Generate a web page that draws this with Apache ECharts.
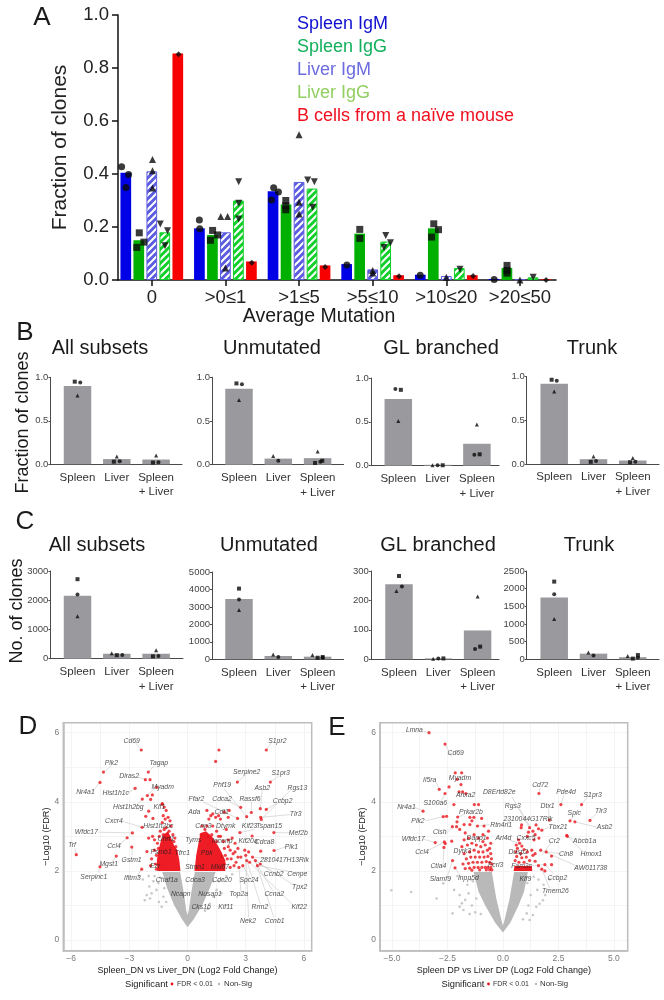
<!DOCTYPE html>
<html><head><meta charset="utf-8">
<style>html,body{margin:0;padding:0;background:#fff}#c{width:664px;height:1000px}</style>
<script src="https://cdn.jsdelivr.net/npm/echarts@6/dist/echarts.min.js"></script>
</head><body><div id="c"></div>
<script>
// ---------- Panel A data ----------
const mutationBins = ['0','>0≤1','>1≤5','>5≤10','>10≤20','>20≤50'];
const spleenIgM = [0.405,0.195,0.335,0.06,0.02,0.004];
const spleenIgG = [0.15,0.17,0.285,0.175,0.195,0.045];
const liverIgM  = [0.41,0.18,0.37,0.04,0.015,0.003];
const liverIgG  = [0.18,0.30,0.345,0.145,0.045,0.01];
const naiveB    = [0.855,0.07,0.055,0.018,0.018,0.003];
const spleenIgMPts = [[-.41,.427],[-.315,.398],[-.35,.349],[.646,.226],[.651,.193],[1.655,.348],[1.72,.332],[1.626,.302],[2.65,.057],[3.646,.018],[4.65,.002]];
const spleenIgGPts = [[-.17,.178],[-.107,.143],[-.204,.123],[.826,.187],[.894,.17],[.796,.15],[1.82,.30],[1.82,.28],[1.82,.265],[2.825,.191],[2.825,.157],[3.83,.212],[3.894,.19],[3.8,.162],[4.825,.055],[4.825,.036],[4.825,.026]];
const liverIgMPts = [[.01,.455],[.01,.412],[.01,.347],[.937,.24],[1.03,.24],[1,.045],[2,.548],[2,.293],[2,.249],[3,.036],[3,.026],[4,.01],[5,0]];
const liverIgGPts = [[.116,.211],[.213,.186],[.179,.129],[1.18,.371],[1.18,.29],[1.18,.23],[2.117,.377],[2.208,.371],[2.185,.275],[3.178,.168],[3.242,.141],[3.155,.123],[4.185,.041],[5.18,.01]];
const naiveBPts = [[.364,.852],[1.358,.065],[2.354,.049],[3.358,.014],[4.364,.015],[5.355,0]];

// ---------- Panels B, C data ----------
const tissueCats = ['Spleen','Liver','Spleen\n+ Liver'];
const subsetTitles = ['All subsets','Unmutated','GL branched','Trunk'];
const fracBars = [[.90,.06,.055],[.87,.07,.075],[.76,.01,.25],[.92,.055,.04]];
const fracSquares = [[[-.07,.95],[.925,.03],[1.92,.02]],[[-.065,.93],[2.12,.045],[1.935,.02]],[[.065,.865],[1.13,.005],[2.07,.13]],[[-.065,.965],[.93,.025],[1.93,.02]]];
const fracCircles = [[[.07,.94],[1.075,.035],[2.06,.025]],[[.075,.92],[1,.045],[2.07,.035]],[[-.075,.875],[1,.005],[1.935,.125]],[[.065,.955],[1.065,.035],[2.065,.025]]];
const fracTriangles = [[[0,.79],[1,.09],[2,.10]],[[0,.74],[.87,.10],[2,.15]],[[0,.51],[.87,.005],[2,.47]],[[0,.83],[1,.085],[2,.07]]];
const cloneBars = [[2150,170,170],[3450,190,150],[255,3,98],[1750,160,60]];
const cloneSquares = [[[0,2720],[1,120],[1.92,80]],[[0,4050],[2.13,130],[2,90]],[[0,283],[1.13,3],[2.065,43]],[[0,2200],[2.13,120],[2,20]]];
const cloneCircles = [[[0,2200],[1.14,130],[2.06,90]],[[0,3430],[1,130],[2.13,90]],[[.075,247],[1,3],[1.935,35]],[[0,1840],[1,110],[2.13,50]]];
const cloneTriangles = [[[0,1450],[.87,190],[2,290]],[[0,2820],[.87,280],[1.87,240]],[[-.065,232],[.87,2],[2,213]],[[0,1140],[.87,190],[1.87,90]]];
const cloneMax = [3000,5000,300,2500];
const cloneStep = [1000,1000,100,500];

// ---------- Panel D data ----------
const dGrayShape = [[0,.37],[-.28,.6],[-.68,1.0],[-1.05,1.5],[-1.3,1.97],[-.38,1.97],[-.2,1.4],[-.06,.85],[0,.72],[.06,.85],[.2,1.4],[.38,1.97],[1.45,1.97],[1.15,1.5],[.75,1.0],[.32,.6]];
const dGrayPts = [[-2.2,1.15],[-2.1,1.3],[-1.97,1.55],[-1.76,1.7],[-2.3,1.75],[-1.6,1.45],[-1.85,1.35],[-1.47,1.1],[-1.33,.96],[-1.5,1.65],[-1.24,1.25],[-1.93,1.2],[-1.4,1.8],[-1.7,1.85],[-2.0,1.85],[-1.1,1.1],[1.85,1.75],[2.0,1.85],[1.15,1.05],[1.5,1.45],[1.75,1.35],[1.33,1.25],[1.6,1.7],[1.3,1.7],[.9,.85],[1.05,.9],[2.3,1.9],[-2.5,1.85],[-1.2,1.5]];
const dRedLeftShape = [[-.36,2],[-1.55,2],[-1.58,2.3],[-1.5,2.6],[-1.38,2.85],[-1.25,3.05],[-1.0,3.15],[-.85,2.95],[-.7,2.75],[-.52,2.6],[-.42,2.3]];
const dRedRightShape = [[.36,2],[1.95,2],[1.95,2.3],[1.75,2.55],[1.55,2.75],[1.25,3.0],[.95,3.15],[.68,3.1],[.58,2.85],[.45,2.45]];
const dRedPts = [[-2.38,5.5],[1.62,5.5],[4.06,5.5],[1.45,5.17],[-4.33,4.86],[-4.51,4.56],[-2.02,4.86],[-2.17,4.64],[-1.93,4.64],[-2.7,4.39],[2.57,4.57],[4.27,4.57],[-1.59,4.42],[-2.07,4.18],[-1.81,4.2],[-2.33,4.08],[-1.9,4.07],[-1.3,3.93],[2.74,3.84],[3.75,3.8],[4.06,3.78],[3.29,3.69],[3.05,3.57],[2.58,3.52],[3.77,3.55],[3.8,3.49],[-2.34,3.26],[-2.84,3.1],[-3.11,2.96],[-2.87,2.69],[-3.67,2.43],[-4.51,2.12],[-5.73,2.47],[-2.36,2.05],[-2.09,2.56],[-2,3.73],[-2.15,3.58],[-1.78,3.52],[4.45,3.11],[4.46,2.59],[3.77,2.57],[3.33,3.01],[2.7,3.11],
 [1.7,2.1],[1.9,2.2],[2.05,2.35],[2.2,2.1],[2.35,2.5],[2.5,2.25],[2.6,2.65],[2.75,2.4],[2.85,2.15],[3,2.45],[3.05,2.3],[3.2,2.25],[3.35,2.4],[3.5,2.3],[3.6,2.15],[3.75,2.2],[3.15,2.55],[2.45,2.8],[2.1,2.9],[1.9,2.65],[1.75,2.4],[2.3,2.95],[1.7,3.0],[1.5,2.85],[1.3,3.3],[1.5,3.15],[1.1,3.5],[1.2,3.6],[1.45,3.55],[1.7,3.5],[2.1,3.55],[1.9,3.7],[2.15,3.75],[1,3.75],[1.3,3.65],[1.6,3.6],[1.25,3.05],[.9,3.2],[.75,3.3],[1,3.3],[1.05,3.0],[.7,3.05],[2,3.2],[1.95,2.45],[2.2,2.6],[2.4,2.15],[2.65,2.1],[2.95,2.6],[2.1,2.7],[1.85,2.85],[1.6,3.0],[2.25,2.35],[2.6,2.4],[2.45,2.55],
 [-1.3,3.95],[-1.2,3.85],[-1.1,3.75],[-1.25,3.6],[-1.15,3.5],[-1,3.55],[-.9,3.45],[-1.3,3.4],[-.85,3.3],[-1.1,3.25],[-.95,3.15],[-.75,3.05],[-1.45,3.0],[-1.25,3.05],[-1.05,2.95],[-.9,2.9],[-.7,2.85],[-2,2.95],[-1.8,3],[-1.55,2.8],[-1.7,2.6],[-1.85,2.35],[-1.65,2.2],[-1.6,2.05],[-1.9,2.15],[-1.7,2.9],[-1.5,2.65],[-1.6,2.45],[-1.2,3.2],[-1.4,3.15],[-.65,2.95],[-.6,2.7]];
// [gene, label x, label y]
const dGenes = [['Cd69',-2.88,5.76],['Tagap',-1.48,5.12],['Plk2',-3.92,5.13],['Diras2',-3.01,4.73],['Myadm',-1.28,4.43],['Hist1h1c',-3.7,4.24],['Nr4a1',-5.26,4.28],['Hist1h2bg',-3.05,3.85],['Klf1',-1.45,3.85],['Cxcr4',-3.79,3.45],['Wfdc17',-5.21,3.12],['Hist1h2bc',-1.5,3.31],['Ccl4',-3.79,2.72],['Gstm1',-2.88,2.31],['Trf',-5.95,2.74],['Mgst1',-4.06,2.21],['Serpinc1',-4.83,1.81],['Ifitm3',-2.84,1.78],['Psmb1',-1.36,2.53],['Tfrc1',-.27,2.52],['Ezr',-1.67,2.14],['Uhrf1',-1.1,2.91],['Chaf1a',-1.07,1.73],['Cdca3',.39,1.73],['Ncapn',-.35,1.33],['Nusap1',1.16,1.33],['Cks1b',.7,.94],['Kif11',1.97,.94],['Top2a',2.64,1.33],['Cdc20',1.78,1.73],['Spc24',3.17,1.73],['Ccnb2',4.44,1.92],['Cenpe',5.66,1.92],['Tpx2',5.78,1.52],['Ccna2',4.47,1.34],['Kif22',5.76,.95],['Rrm2',3.73,.95],['Nek2',3.12,.54],['Ccnb1',4.49,.54],['S1pr2',4.63,5.76],['S1pr3',4.8,4.83],['Serpine2',3.05,4.86],['Phf19',1.79,4.47],['Asb2',3.85,4.41],['Rgs13',5.66,4.41],['Ccbp2',4.9,4.01],['Cdca2',1.78,4.08],['Rassf6',3.22,4.07],['Ffar2',.46,4.08],['Ada',.35,3.69],['Cdt1',1.76,3.69],['Tlr3',5.57,3.63],['Kif23',3.2,3.29],['Tspan15',4.21,3.29],['Mef2b',5.71,3.1],['Cnn3',.82,3.31],['Dtymk',1.97,3.29],['Kif20a',3.12,2.86],['Cdca8',3.97,2.84],['Plk1',5.35,2.7],['2810417H13Rik',5,2.31],['Tyms',.3,2.89],['Incenp',1.79,2.87],['Pbk',.99,2.51],['Stmn1',.39,2.12],['Mki67',1.67,2.12]];
// [label x, label y, point x, point y]
const dLinks = [[-2.7,5.72,-2.38,5.5],[-1.7,5.05,-2.02,4.86],[-3.9,5.05,-4.33,4.86],[-4.9,4.3,-4.51,4.56],[-2.6,4.73,-2.17,4.64],[-1.7,4.4,-2.07,4.18],[-3.1,4.24,-2.7,4.39],[-2.7,3.85,-2.33,4.08],[-3.4,3.45,-2.34,3.26],[-4.6,3.12,-2.84,3.1],[-3.5,2.75,-3.11,2.96],[-2.85,2.45,-2.87,2.69],[-3.9,2.25,-3.67,2.43],[-4.6,1.95,-4.51,2.12],[-5.8,2.65,-5.73,2.47],[-2.6,1.85,-2.36,2.05],[4.3,5.7,4.06,5.5],[4.7,4.75,4.27,4.57],[3,4.78,2.57,4.57],[1.9,4.37,3.05,3.57],[5.3,4.33,3.8,3.49],[3.85,4.33,3.75,3.8],[4.6,3.95,4.06,3.78],[2.1,4.02,2.74,3.84],[.8,4,2.58,3.52],[3.3,4,3.29,3.69],[5.3,3.63,3.77,3.55],[5.3,3.1,4.45,3.11],[5.1,2.7,4.46,2.59],[4.3,2.35,3.3,2.4],[4.35,1.98,3.5,2.3],[5.4,1.97,3.6,2.15],[5.5,1.58,3.75,2.2],[4.4,1.42,3.35,2.4],[5.4,1.03,3.2,2.25],[3.75,1.05,3.05,2.3],[3.15,.65,3,2.45],[4.45,.65,3.5,2.3],[3.2,1.8,2.85,2.15],[2.75,1.42,2.65,2.1],[3.45,3.2,2.7,3.11]];

// ---------- Panel E data ----------
const eGrayShape = [[0,.22],[-.35,.5],[-.8,1.0],[-1.1,1.4],[-1.32,1.97],[-.5,1.97],[-.3,1.2],[-.06,.55],[0,.42],[.06,.55],[.3,1.2],[.5,1.97],[1.12,1.97],[.95,1.4],[.7,1.0],[.33,.5]];
const eGrayPts = [[-5.03,1.44],[-4.14,1.39],[-2.99,1.2],[-2.27,.77],[-2.69,1.64],[-1.78,.87],[-1.7,1.16],[-1.85,1.06],[-1.55,1.35],[-1.95,.96],[-1.4,1.0],[-1.25,.8],[-1.6,1.6],[-1.45,1.75],[-2.2,1.45],[-1.95,1.3],[-1.35,1.7],[-1.5,.75],[-1.2,1.2],[1.2,.58],[1.5,.96],[1.8,1.15],[1.07,.77],[1.83,1.6],[1.38,1.83],[1.25,1.3],[1.55,1.45],[1.1,1.65],[1.9,1.3],[1.35,.72],[1.15,1.0],[1.6,1.75],[2.1,1.75],[-1,.75],[.9,.6],[1.65,1.05],[-2.05,1.85]];
const eRedBase = [[.48,2],[1.32,2],[1.3,2.14],[.52,2.14]];
const eRedPts = [[-3.33,6],[-2.61,5.67],[-2.15,4.84],[-1.86,4.84],[-2.06,4.65],[-1.89,4.5],[-2.43,4.43],[-2.87,4.36],[-2.61,4.24],[-1.98,4.29],[-1.82,4.29],[-1.67,4.24],[-2.21,3.92],[-1.29,3.92],[-1.1,3.92],[-3.6,3.73],[-2.69,3.57],[-2.54,3.58],[-2.04,3.56],[-2.07,3.42],[-1.49,3.55],[-1.31,3.55],[-.96,3.52],[-2.28,3.28],[-2.09,3.28],[-1.75,3.34],[-1.49,3.34],[-3.05,2.82],[-2.64,2.84],[-2.6,2.79],[-2.31,2.86],[-2.66,2.68],[-2.27,2.3],[-2.16,2.09],[-1.95,3.2],[-1.7,3.1],[-1.4,3.45],[-1.15,3.3],[-.9,3.05],[-.85,3.3],[-.65,3.15],
 [-1.75,2.9],[-1.55,2.95],[-1.3,3.05],[-1.1,2.95],[-.9,2.85],[-.7,2.95],[-.55,2.8],[-1.85,2.7],[-1.6,2.75],[-1.4,2.8],[-1.2,2.75],[-1,2.7],[-.8,2.75],[-.6,2.65],[-1.75,2.5],[-1.5,2.55],[-1.3,2.6],[-1.1,2.55],[-.9,2.55],[-.7,2.6],[-.55,2.5],[-1.65,2.35],[-1.45,2.4],[-1.25,2.4],[-1.05,2.4],[-.85,2.4],[-.68,2.42],[-.52,2.35],[-1.8,2.2],[-1.55,2.22],[-1.35,2.25],[-1.15,2.25],[-.95,2.25],[-.75,2.27],[-.6,2.25],[-.5,2.2],[-1.7,2.07],[-1.5,2.08],[-1.3,2.1],[-1.12,2.1],[-.95,2.1],[-.8,2.1],[-.68,2.1],[-.55,2.1],[-1.4,2.02],[-1.05,2.03],[-.75,2.03],[-.6,2.03],[-.5,2.03],
 [1.62,4.24],[2.61,3.92],[3.54,3.92],[2.09,3.47],[3.02,3.45],[3.24,3.42],[3.92,3.46],[2.87,3.03],[2.9,3],[2.19,2.43],[1.89,2.18],[2.19,2.18],[1.89,2],[.84,3.33],[.82,3.25],[1.49,3.33],[1.2,3.25],[1.6,3.22],[1.75,3.18],[1.35,3.15],[1.15,3.12],[1.45,3.05],[1.62,2.95],[1.4,2.9],[1.1,3.0],[.7,2.9],[.75,2.8],[.6,2.75],[.85,2.72],[.65,2.65],[.95,2.62],[.58,2.55],[.8,2.5],[1.1,2.55],[1.3,2.6],[1.7,2.6],[1.95,2.55],[1.45,2.5],[.62,2.42],[.85,2.38],[1.05,2.4],[.55,2.3],[.72,2.25],[.95,2.25],[1.2,2.3],[1.35,2.45],[1.6,2.15],[1.45,2.28],[1.75,2.05]];
const eGenes = [['Lmna',-3.99,6.08],['Cd69',-2.13,5.4],['Il5ra',-3.3,4.63],['Myadm',-1.94,4.7],['Anxa2',-1.68,4.19],['S100a6',-3.05,3.96],['Nr4a1',-4.35,3.84],['Prkar2b',-1.44,3.71],['Plk2',-3.83,3.45],['Rtn4rl1',-.08,3.34],['Cish',-2.85,3.12],['Wfdc17',-4.04,2.92],['Ccl4',-3.65,2.54],['Dyrk3',-1.83,2.56],['Ctla4',-2.91,2.14],['Slamf9',-2.82,1.75],['Inpp5d',-1.56,1.8],['Dapp1',-1.19,2.94],['Fcrl3',-.33,2.16],['D8Ertd82e',-.17,4.27],['Cd72',1.68,4.49],['Pde4d',2.84,4.29],['S1pr3',4.04,4.18],['Tlr3',4.41,3.73],['Spic',3.21,3.68],['Rgs3',.44,3.88],['Dtx1',2.01,3.89],['2310044G17Rik',1.13,3.49],['Tbx21',2.48,3.27],['Asb2',4.58,3.27],['Arl4d',.02,2.94],['Cxxc5',1.04,2.94],['Cr2',2.31,2.87],['Abcb1a',3.68,2.87],['Dusp2',.69,2.54],['Cln8',2.84,2.49],['Hmox1',3.98,2.49],['Fam3c',.84,2.15],['AW011738',3.96,2.09],['Ccbp2',2.45,1.8],['Klf9',1.01,1.75],['Tmem26',2.36,1.41]];
const eLinks = [[-3.6,6.05,-3.33,6],[-2.3,5.3,-2.61,5.67],[-3,4.55,-2.87,4.36],[-2,4.63,-2.06,4.65],[-1.85,4.2,-1.98,4.29],[-2.8,4,-2.61,4.24],[-4,3.85,-3.6,3.73],[-1.7,3.65,-2.04,3.56],[-3.5,3.45,-2.69,3.57],[-.6,3.34,-1.15,3.3],[-2.6,3.05,-2.28,3.28],[-3.6,2.92,-3.05,2.82],[-3.35,2.6,-2.64,2.84],[-2.7,2.2,-2.66,2.68],[-2.5,1.85,-2.27,2.3],[-1.9,1.85,-2.16,2.09],[.4,4.15,1.15,3.3],[1.68,4.4,1.62,4.24],[2.75,4.2,2.61,3.92],[3.8,4.15,3.54,3.92],[4.2,3.65,3.92,3.46],[3.2,3.6,3.02,3.45],[.75,3.8,1.2,3.3],[2.05,3.8,2.09,3.47],[2.2,3.3,1.75,3.18],[4.2,3.27,3.24,3.42],[.3,2.9,.7,2.8],[2.15,2.8,1.75,2.45],[3.3,2.9,2.87,3],[2.6,2.5,1.95,2.55],[3.7,2.5,2.9,3],[3.4,2.12,1.7,2.6],[2.3,1.9,1.89,2.18],[2.1,1.5,1.75,2.05],[1.2,2.15,1.89,2.18]];

const F = 'Liberation Sans';
const AXC = '#4a4a4a';

function hatch(bg, stripe){
  const s = 7, c = document.createElement('canvas');
  c.width = s; c.height = s;
  const g = c.getContext('2d');
  g.fillStyle = bg; g.fillRect(0,0,s,s);
  g.strokeStyle = stripe; g.lineWidth = 2;
  g.beginPath();
  for(let k=-s;k<=2*s;k+=s){ g.moveTo(k-1,s+1); g.lineTo(k+s+1,-1); }
  g.stroke();
  return {image:c, repeat:'repeat'};
}

const grids=[], xAxes=[], yAxes=[], series=[];
function addAxes(grid, x, y){
  grids.push(grid); const i = grids.length-1;
  xAxes.push(Object.assign({gridIndex:i, type:'value'}, x));
  yAxes.push(Object.assign({gridIndex:i, type:'value'}, y));
  return i;
}
function pts(i, name, data, symbol, size, rot){
  series.push({type:'scatter', name, xAxisIndex:i, yAxisIndex:i, data, symbol, symbolSize:size, symbolRotate:rot||0,
    itemStyle:{color:'#0a0a0a'}, z:5, silent:true});
}

// ---------- Panel A ----------
(function(){
  const i = addAxes({left:118, width:438, top:15, height:265},
    {min:-.459, max:5.49, axisLine:{onZero:false,lineStyle:{color:'#111',width:1.5}}, splitLine:{show:false},
     axisTick:{customValues:[0,1,2,3,4,5], length:6, lineStyle:{color:'#111',width:1.5}},
     axisLabel:{customValues:[0,1,2,3,4,5], color:'#222', fontFamily:F, fontSize:18.5, margin:8, formatter:v=>mutationBins[v]}},
    {min:0, max:1, interval:.2, name:'Fraction of clones', nameLocation:'middle', nameGap:47, nameTextStyle:{fontFamily:F,fontSize:21,color:'#222'},
     axisLine:{show:true,onZero:false,lineStyle:{color:'#111',width:1.5}}, axisTick:{show:true,length:6,lineStyle:{color:'#111',width:1.5}}, splitLine:{show:false},
     axisLabel:{color:'#222', fontFamily:F, fontSize:18.5, margin:9, formatter:v=>v.toFixed(1)}});
  const defs = [['Spleen IgM',spleenIgM,'#0000e6',0],['Spleen IgG',spleenIgG,'#00b000',0],
    ['Liver IgM',liverIgM,hatch('#5c5ce0','#ffffff'),'#5c5ce0'],['Liver IgG',liverIgG,hatch('#12cf2a','#ffffff'),'#12cf2a'],['B cells from a naïve mouse',naiveB,'#f80000',0]];
  defs.forEach(d=>series.push({type:'bar', name:d[0], xAxisIndex:i, yAxisIndex:i, barWidth:10.7, barGap:'21.5%',
    data:d[1].map((v,k)=>[k,v]), itemStyle:{color:d[2], borderColor:d[3]||'transparent', borderWidth:d[3]?1:0}, silent:true, z:2}));
  pts(i,'Spleen IgM pts',spleenIgMPts,'circle',7);
  pts(i,'Spleen IgG pts',spleenIgGPts,'rect',7);
  pts(i,'Liver IgM pts',liverIgMPts,'triangle',7);
  pts(i,'Liver IgG pts',liverIgGPts,'triangle',7,180);
  pts(i,'Naive pts',naiveBPts,'diamond',6);
})();

// ---------- Panels B, C ----------
const smallLayoutB = [{l:50.4,r:182,c:77.5,t:377.3,b:464.3},{l:212,r:343.6,c:239,t:377.3,b:464.7},{l:370.8,r:499,c:398.3,t:378,b:465.7},{l:526.7,r:659,c:554.2,t:376.7,b:464}];
const smallLayoutC = [{l:50.4,r:183,c:77.5,t:571,b:658.7},{l:212,r:343.6,c:239,t:572,b:659.3},{l:370.8,r:499,c:399,t:571,b:659.3},{l:526.7,r:659,c:554.2,t:571,b:659.3}];
function small(L, bars, sq, ci, tr, ymax, step, fmt, tag){
  const s = 39.3;
  const i = addAxes({left:L.l, width:L.r-L.l, top:L.t, height:L.b-L.t},
    {min:(L.l-L.c)/s, max:(L.r-L.c)/s, axisLine:{onZero:false,lineStyle:{color:AXC,width:1}}, splitLine:{show:false},
     axisTick:{show:false, customValues:[0,1,2]},
     axisLabel:{customValues:[0,1,2], color:'#333', fontFamily:F, fontSize:11.5, lineHeight:14.5, margin:6, formatter:v=>tissueCats[v]}},
    {min:0, max:ymax, interval:step, axisLine:{show:true,onZero:false,lineStyle:{color:AXC,width:1}}, axisTick:{show:true,length:2,lineStyle:{color:AXC}}, splitLine:{show:false},
     axisLabel:{color:'#444', fontFamily:F, fontSize:9.5, margin:2, formatter:fmt}});
  series.push({type:'bar', name:tag, xAxisIndex:i, yAxisIndex:i, barWidth:27.5, data:bars.map((v,k)=>[k,v]), itemStyle:{color:'#9a9a9e'}, silent:true, z:2});
  pts(i,tag+' a',sq,'rect',4);
  pts(i,tag+' b',ci,'circle',4);
  pts(i,tag+' c',tr,'triangle',4);
}
subsetTitles.forEach((t,k)=>small(smallLayoutB[k],fracBars[k],fracSquares[k],fracCircles[k],fracTriangles[k],1,.5,v=>v.toFixed(1),'Fraction '+t));
subsetTitles.forEach((t,k)=>small(smallLayoutC[k],cloneBars[k],cloneSquares[k],cloneCircles[k],cloneTriangles[k],cloneMax[k],cloneStep[k],v=>String(v),'Clones '+t));

// ---------- Volcano panels ----------
function polygon(i, name, shape, color, z){
  series.push({type:'custom', name, xAxisIndex:i, yAxisIndex:i, data:shape, encode:{x:0,y:1}, z, silent:true, clip:true,
    renderItem:(p,api)=> p.dataIndex===0 ? {type:'polygon', shape:{points:shape.map(v=>api.coord(v))}, style:{fill:color}} : {type:'group',children:[]}});
}
function volcano(G, xr, xTicks, xLabels, xName, xFmt, gShape, gPts, rShapes, rPts, genes, links){
  const i = addAxes(G,
    {min:xr[0], max:xr[1], name:xName, nameLocation:'middle', nameGap:15, nameTextStyle:{fontFamily:F,fontSize:9,color:'#222'},
     axisLine:{onZero:false,lineStyle:{color:'#bdbdbd',width:1.5}}, splitLine:{show:true,lineStyle:{color:'#f1f1f1',width:.8}},
     axisTick:{customValues:xTicks, show:false},
     axisLabel:{customValues:xLabels, color:'#7a7a7a', fontFamily:F, fontSize:8.5, margin:3, formatter:xFmt}},
    {min:-.31, max:6.29, name:'−Log10 (FDR)', nameLocation:'middle', nameGap:11, nameTextStyle:{fontFamily:F,fontSize:9.2,color:'#222'},
     axisLine:{show:true,onZero:false,lineStyle:{color:'#bdbdbd',width:1.5}}, splitLine:{show:true,lineStyle:{color:'#f1f1f1',width:.8}},
     axisTick:{customValues:[0,1,2,3,4,5,6], show:false},
     axisLabel:{customValues:[0,2,4,6], color:'#7a7a7a', fontFamily:F, fontSize:8.5, margin:4}});
  polygon(i,'NonSig mass',gShape,'#b9b9b9',2);
  series.push({type:'scatter', name:'NonSig', xAxisIndex:i, yAxisIndex:i, data:gPts, symbol:'circle', symbolSize:2.6, itemStyle:{color:'#bcbcbc'}, z:2, silent:true});
  series.push({type:'custom', name:'Links', xAxisIndex:i, yAxisIndex:i, data:links, encode:{x:[0,2],y:[1,3]}, z:3, silent:true,
    renderItem:(p,api)=>{const a=api.coord([api.value(0),api.value(1)]), b=api.coord([api.value(2),api.value(3)]);
      return {type:'line', shape:{x1:a[0],y1:a[1],x2:b[0],y2:b[1]}, style:{stroke:'#cfcfcf',lineWidth:.7}};}});
  rShapes.forEach((r,k)=>polygon(i,'Sig mass '+k,r,'#ee1c25',4));
  series.push({type:'scatter', name:'Sig', xAxisIndex:i, yAxisIndex:i, data:rPts, symbol:'circle', symbolSize:3.2, itemStyle:{color:'#e8141c'}, z:4, silent:true});
  series.push({type:'scatter', name:'Genes', xAxisIndex:i, yAxisIndex:i, symbolSize:0, z:6, silent:true,
    data:genes.map(g=>({name:g[0], value:[g[1],g[2]]})),
    label:{show:true, position:'inside', formatter:'{b}', fontFamily:F, fontStyle:'italic', fontSize:6.8, color:'#1f1f1f'}, labelLayout:{hideOverlap:false}});
}
volcano({left:63.3,width:248.4,top:722.7,height:228},[-6.4,6.4],[-6,-4.5,-3,-1.5,0,1.5,3,4.5,6],[-6,-3,0,3,6],'Spleen_DN vs Liver_DN (Log2 Fold Change)',v=>String(v).replace('-','−'),
  dGrayShape,dGrayPts,[dRedLeftShape,dRedRightShape],dRedPts,dGenes,dLinks);
volcano({left:380,width:247.7,top:722.7,height:228},[-5.54,5.62],[-5,-3.75,-2.5,-1.25,0,1.25,2.5,3.75,5],[-5,-2.5,0,2.5,5],'Spleen DP vs Liver DP (Log2 Fold Change)',v=>v.toFixed(1).replace('-','−'),
  eGrayShape,eGrayPts,[eRedBase],eRedPts,eGenes,eLinks);

// ---------- Free text ----------
function T(text,x,y,size,opt){
  return Object.assign({type:'text', x, y, silent:true, z:20, style:Object.assign({text, fontFamily:F, fontSize:size, fill:'#1a1a1a', textAlign:'center', textVerticalAlign:'middle'}, opt&&opt.style)}, opt&&opt.el);
}
const titleX = [100,272,441,592];
const graphic = [
  T('A',42,18,26),T('B',25,333,26),T('C',25,522,26),T('D',28,727,26),T('E',337,728,26),
  T('Average Mutation',319,317,19.5),
  T('Fraction of clones',23,422.5,18,{el:{rotation:Math.PI/2}}),
  T('No. of clones',17,611,18,{el:{rotation:Math.PI/2}}),
];
subsetTitles.forEach((t,k)=>{graphic.push(T(t,titleX[k],348,20)); graphic.push(T(t,titleX[k]-3,545,20));});
[[0,63.3,311.7,722.7,950.7],[1,380,627.7,722.7,950.7]].forEach(a=>{
  graphic.push({type:'rect', z:1, silent:true, shape:{x:a[1],y:a[3],width:a[2]-a[1],height:a[4]-a[3]}, style:{fill:'none',stroke:'#bdbdbd',lineWidth:1.5}});
});
[[125,172,177,219,224],[441.5,488.5,493,536,540]].forEach(a=>{
  graphic.push(T('Significant',a[0],984,9.3,{style:{textAlign:'left'}}));
  graphic.push({type:'circle', silent:true, shape:{cx:a[1],cy:984,r:1.4}, style:{fill:'#e8141c'}});
  graphic.push(T('FDR < 0.01',a[2],984,7,{style:{textAlign:'left',fill:'#333'}}));
  graphic.push({type:'circle', silent:true, shape:{cx:a[3],cy:984,r:1.2}, style:{fill:'#b9b9b9'}});
  graphic.push(T('Non-Sig',a[4],984,7.8,{style:{textAlign:'left',fill:'#333'}}));
});

const legendColors = {'Spleen IgM':'#1010d0','Spleen IgG':'#12b05c','Liver IgM':'#6c6ce0','Liver IgG':'#92cf62','B cells from a naïve mouse':'#f01020'};
const chart = echarts.init(document.getElementById('c'),null,{renderer:'canvas'});
chart.setOption({
  animation:false, backgroundColor:'#fff',
  textStyle:{fontFamily:F},
  legend:{show:true, left:286, top:10, orient:'vertical', itemWidth:0, itemHeight:0, itemGap:5, selectedMode:false, icon:'rect',
    data:Object.keys(legendColors).map(n=>({name:n, textStyle:{color:legendColors[n], fontFamily:F, fontSize:18}}))},
  grid:grids, xAxis:xAxes, yAxis:yAxes, series, graphic:{elements:graphic}
});
</script></body></html>
